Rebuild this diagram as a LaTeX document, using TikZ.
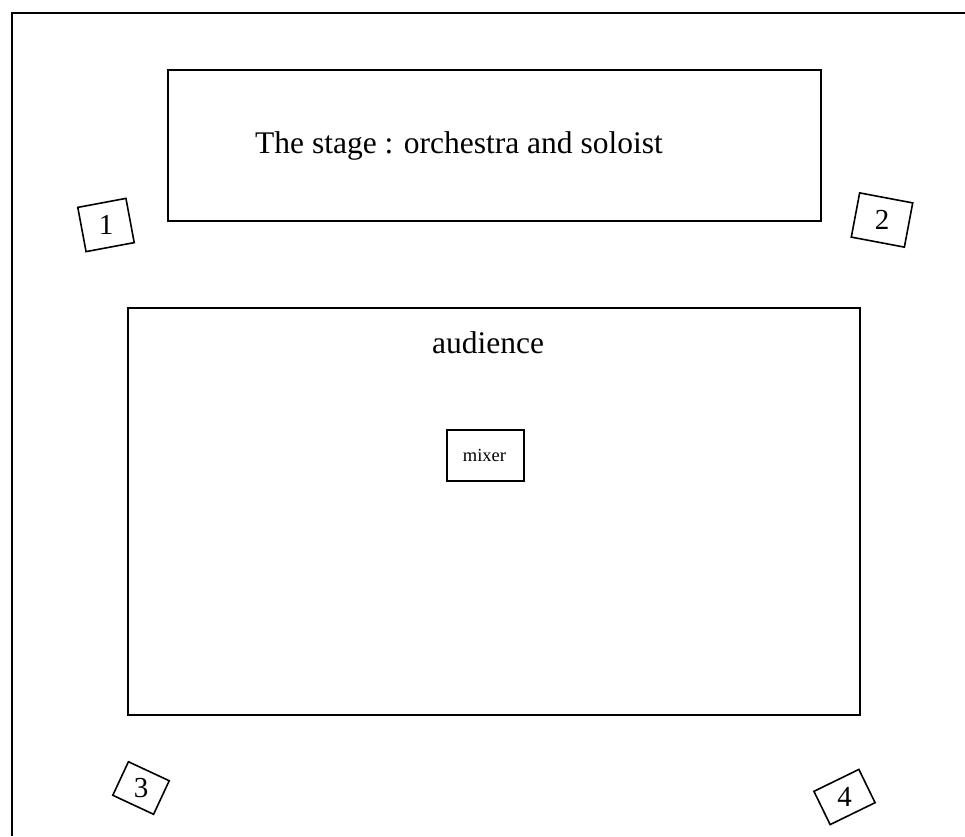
\documentclass[tikz,border=0pt]{standalone}
\usepackage{fontspec}
\setmainfont{Liberation Serif}
\begin{document}
\begin{tikzpicture}[x=1pt,y=-1pt,
  line/.style={line width=1.6pt},
  area/.style={draw,line width=1.6pt,inner sep=0pt,anchor=north west},
  spk/.style={draw,line width=1.6pt,inner sep=0pt,minimum width=#1},
  big/.style={font=\fontsize{31.5}{36}\selectfont,anchor=base,inner sep=0pt},
  digit/.style={font=\fontsize{29}{32}\selectfont,inner sep=0pt}
]
\useasboundingbox (0,0) rectangle (965,836);
\coordinate (ftop) at (965,13);
\coordinate (fcorner) at (12,13);
\coordinate (fbot) at (12,836);
\draw[line] (ftop) -- (fcorner) -- (fbot);
% stage
\node[area,minimum width=653pt,minimum height=151pt] (stage) at (167,69) {};
\node[big] (stagetxt) at (459,153) {The stage : orchestra and soloist};
% audience
\node[area,minimum width=732pt,minimum height=407pt] (aud) at (127,307) {};
\node[big] (audtxt) at (488,353) {audience};
% mixer
\node[area,minimum width=77pt,minimum height=51pt] (mixer) at (446,429) {};
\node[font=\fontsize{18.5}{20}\selectfont,inner sep=0pt] (mixtxt) at (484.5,455) {mixer};
% speakers
\node[spk=49pt,minimum height=45pt,rotate=10.6] (s1) at (106,225) {};
\node[digit] at (s1.center) {1};
\node[spk=54pt,minimum height=45pt,rotate=-10.7] (s2) at (882,220) {};
\node[digit] at (s2.center) {2};
\node[spk=45pt,minimum height=37pt,rotate=-25] (s3) at (141,788) {};
\node[digit] at (s3.center) {3};
\node[spk=50pt,minimum height=37pt,rotate=26] (s4) at (844.5,797) {};
\node[digit] at (s4.center) {4};
\end{tikzpicture}
\end{document}
